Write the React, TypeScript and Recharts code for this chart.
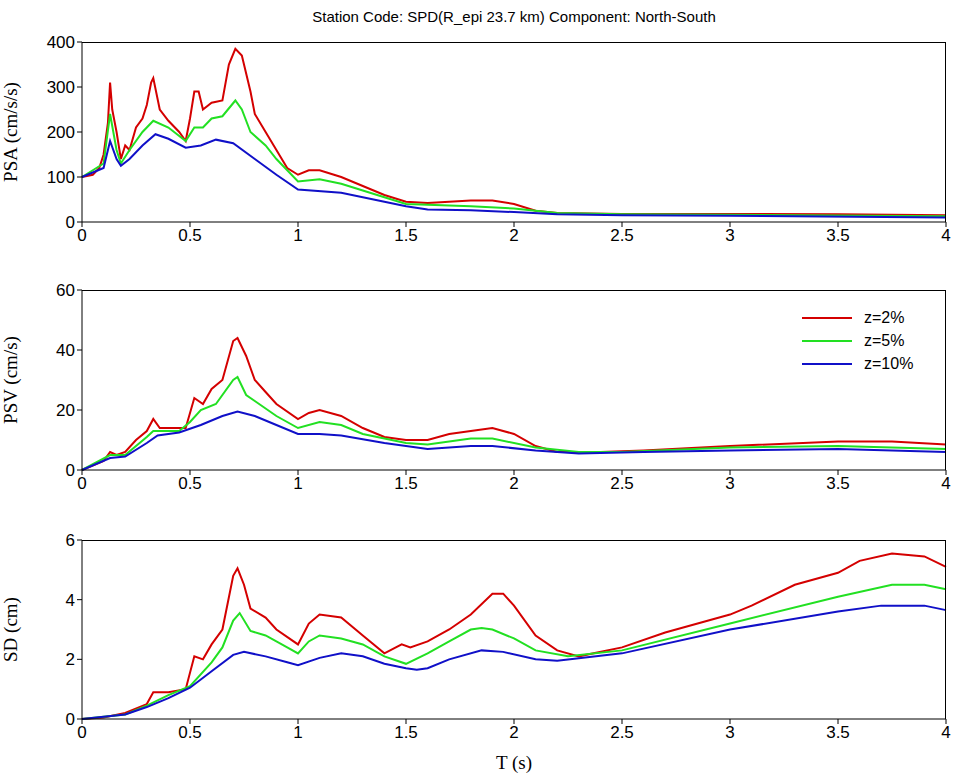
import React from 'react'
import { LineChart, Line, XAxis, YAxis } from 'recharts'

type P = [number, number]
const psaZ2: P[] = [[0,100],[0.05,105],[0.08,120],[0.1,150],[0.12,220],[0.13,310],[0.14,250],[0.16,200],[0.18,140],[0.2,170],[0.22,160],[0.25,210],[0.28,230],[0.3,260],[0.32,310],[0.33,320],[0.36,250],[0.4,225],[0.45,200],[0.48,180],[0.5,230],[0.52,290],[0.54,290],[0.56,250],[0.6,265],[0.65,270],[0.68,350],[0.71,385],[0.74,370],[0.78,290],[0.8,240],[0.85,200],[0.9,160],[0.95,120],[1,105],[1.05,115],[1.1,115],[1.2,100],[1.3,80],[1.4,60],[1.5,45],[1.6,42],[1.7,45],[1.8,48],[1.9,48],[2,40],[2.1,25],[2.2,20],[2.5,18],[3,18],[3.5,17],[4,15]]
const psaZ5: P[] = [[0,100],[0.1,130],[0.13,240],[0.16,160],[0.18,130],[0.22,160],[0.28,200],[0.33,225],[0.4,210],[0.48,180],[0.52,210],[0.56,210],[0.6,230],[0.65,235],[0.71,270],[0.74,250],[0.78,200],[0.85,170],[0.9,140],[1,90],[1.1,95],[1.2,85],[1.3,70],[1.4,55],[1.5,40],[1.8,35],[2,30],[2.2,20],[2.5,17],[3,16],[4,13]]
const psaZ10: P[] = [[0,100],[0.1,120],[0.13,180],[0.16,140],[0.18,125],[0.22,140],[0.28,170],[0.34,195],[0.4,185],[0.48,165],[0.55,170],[0.62,183],[0.7,175],[0.8,140],[0.9,105],[1,72],[1.2,65],[1.4,45],[1.5,35],[1.6,28],[1.8,26],[2,22],[2.2,17],[2.5,15],[3,14],[4,10]]

const psvZ2: P[] = [[0,0],[0.1,3],[0.13,6],[0.16,5],[0.2,6],[0.25,10],[0.3,13],[0.33,17],[0.36,14],[0.4,14],[0.48,14],[0.52,24],[0.56,22],[0.6,27],[0.65,30],[0.7,43],[0.72,44],[0.76,38],[0.8,30],[0.85,26],[0.9,22],[1,17],[1.05,19],[1.1,20],[1.2,18],[1.3,14],[1.4,11],[1.5,10],[1.6,10],[1.7,12],[1.8,13],[1.9,14],[2,12],[2.1,8],[2.2,6],[2.4,6],[2.6,6.5],[3,8],[3.5,9.5],[3.75,9.5],[4,8.5]]
const psvZ5: P[] = [[0,0],[0.13,5],[0.2,5],[0.3,11],[0.33,13],[0.45,13],[0.5,16],[0.55,20],[0.62,22],[0.7,30],[0.72,31],[0.76,25],[0.8,23],[0.9,18],[1,14],[1.1,16],[1.2,15],[1.3,12],[1.5,9],[1.6,8.5],[1.8,10.5],[1.9,10.5],[2.1,7.5],[2.3,6],[2.5,6],[3,7.5],[3.5,8],[4,7]]
const psvZ10: P[] = [[0,0],[0.13,4],[0.2,4.5],[0.3,9],[0.35,11.5],[0.45,12.5],[0.55,15],[0.65,18],[0.72,19.5],[0.8,18],[0.9,15],[1,12],[1.1,12],[1.2,11.5],[1.4,9],[1.6,7],[1.8,8],[1.9,8],[2.1,6.5],[2.3,5.5],[2.6,6],[3,6.5],[3.5,7],[4,6]]

const sdZ2: P[] = [[0,0],[0.1,0.05],[0.2,0.2],[0.3,0.5],[0.33,0.9],[0.4,0.9],[0.48,1],[0.52,2.1],[0.56,2],[0.6,2.5],[0.65,3],[0.7,4.8],[0.72,5.05],[0.75,4.5],[0.78,3.7],[0.85,3.4],[0.9,3],[1,2.5],[1.05,3.2],[1.1,3.5],[1.2,3.4],[1.3,2.8],[1.4,2.2],[1.48,2.5],[1.52,2.4],[1.6,2.6],[1.7,3],[1.8,3.5],[1.9,4.2],[1.95,4.2],[2,3.8],[2.1,2.8],[2.2,2.3],[2.3,2.1],[2.5,2.4],[2.7,2.9],[3,3.5],[3.1,3.8],[3.3,4.5],[3.5,4.9],[3.6,5.3],[3.75,5.55],[3.9,5.45],[4,5.1]]
const sdZ5: P[] = [[0,0],[0.2,0.15],[0.3,0.45],[0.4,0.8],[0.5,1.1],[0.6,1.9],[0.65,2.4],[0.7,3.3],[0.73,3.55],[0.78,2.95],[0.85,2.8],[0.95,2.4],[1,2.2],[1.05,2.6],[1.1,2.8],[1.2,2.7],[1.3,2.5],[1.4,2.1],[1.5,1.85],[1.6,2.2],[1.7,2.6],[1.8,3],[1.85,3.05],[1.9,3],[2,2.7],[2.1,2.3],[2.25,2.1],[2.5,2.3],[3,3.2],[3.5,4.1],[3.75,4.5],[3.9,4.5],[4,4.35]]
const sdZ10: P[] = [[0,0],[0.2,0.15],[0.3,0.4],[0.4,0.7],[0.5,1.05],[0.6,1.6],[0.7,2.15],[0.75,2.25],[0.85,2.1],[0.95,1.9],[1,1.8],[1.1,2.05],[1.2,2.2],[1.3,2.1],[1.4,1.85],[1.5,1.7],[1.55,1.65],[1.6,1.7],[1.7,2],[1.85,2.3],[1.95,2.25],[2.1,2],[2.2,1.95],[2.5,2.2],[3,3],[3.5,3.6],[3.7,3.8],[3.9,3.8],[4,3.65]]

const xTicks = [0, 0.5, 1, 1.5, 2, 2.5, 3, 3.5, 4]
const labels = ['z=2%', 'z=5%', 'z=10%']
const colors = ['#d40000', '#22e022', '#1010c8']

const toRows = (p: P[]) => p.map(([t, v]) => ({ t, v }))
const tickStyle = { fontFamily: 'Liberation Sans, Arial', fontSize: 17, fill: '#000' }

function Panel({ top, height, yMax, yTicks, ylabel, series }: { top: number; height: number; yMax: number; yTicks: number[]; ylabel: string; series: P[][] }) {
  return (
    <div style={{ position: 'absolute', top, left: 0 }}>
      <LineChart width={958} height={height + 38} margin={{ top: 10, right: 12, left: 0, bottom: 0 }}>
        <XAxis type="number" dataKey="t" domain={[0, 4]} ticks={xTicks} tick={tickStyle} stroke="#000" tickSize={5} height={28} allowDuplicatedCategory={false} />
        <YAxis type="number" domain={[0, yMax]} ticks={yTicks} tick={tickStyle} stroke="#000" tickSize={5} width={82}
          label={{ value: ylabel, angle: -90, position: 'insideLeft', offset: 10, style: { fontFamily: 'Liberation Serif, Times New Roman', fontSize: 19, fill: '#000', textAnchor: 'middle' } }} />
        {series.map((s, i) => (
          <Line key={i} data={toRows(s)} dataKey="v" type="linear" stroke={colors[i]} strokeWidth={2} dot={false} isAnimationActive={false} />
        ))}
      </LineChart>
      <div style={{ position: 'absolute', top: 10, left: 82, width: 864, height, border: '1px solid #000', borderLeft: 'none', borderBottom: 'none', boxSizing: 'border-box', pointerEvents: 'none' }} />
    </div>
  )
}

export default function App() {
  return (
    <div style={{ position: 'absolute', top: 0, left: 0, width: 958, height: 781, background: '#fff' }}>
      <div style={{ position: 'absolute', top: 8, left: 82, width: 864, textAlign: 'center', fontFamily: 'Liberation Sans, Arial', fontSize: 15 }}>
        Station Code: SPD(R_epi 23.7 km) Component: North-South
      </div>
      <Panel top={32} height={180} yMax={400} yTicks={[0, 100, 200, 300, 400]} ylabel="PSA (cm/s/s)" series={[psaZ2, psaZ5, psaZ10]} />
      <Panel top={280} height={180} yMax={60} yTicks={[0, 20, 40, 60]} ylabel="PSV (cm/s)" series={[psvZ2, psvZ5, psvZ10]} />
      <Panel top={530} height={179} yMax={6} yTicks={[0, 2, 4, 6]} ylabel="SD (cm)" series={[sdZ2, sdZ5, sdZ10]} />
      <div style={{ position: 'absolute', top: 306, left: 802, fontFamily: 'Liberation Sans, Arial', fontSize: 16 }}>
        {labels.map((l, i) => (
          <div key={l} style={{ display: 'flex', alignItems: 'center', height: 23 }}>
            <div style={{ width: 50, height: 2, background: colors[i], marginRight: 12 }} />
            {l}
          </div>
        ))}
      </div>
      <div style={{ position: 'absolute', top: 752, left: 82, width: 864, textAlign: 'center', fontFamily: 'Liberation Serif, Times New Roman', fontSize: 19 }}>
        T (s)
      </div>
    </div>
  )
}
